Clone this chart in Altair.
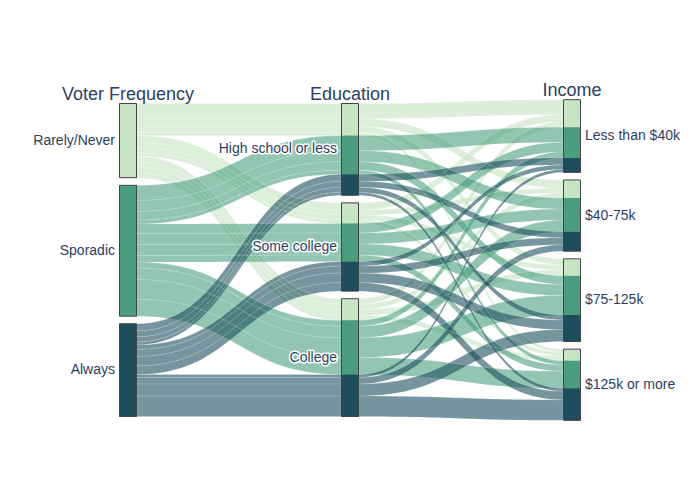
import altair as alt
import pandas as pd

# ---------------- data ----------------
dimensions = ["Voter Frequency", "Education", "Income"]
voter_freq = ["Rarely/Never", "Sporadic", "Always"]
education = ["High school or less", "Some college", "College"]
income = ["Less than $40k", "$40-75k", "$75-125k", "$125k or more"]
band_colors = ["#c6e5c2", "#4a9e7f", "#1d4e5e"]

# counts[education][income] for each voter frequency group
counts_rarely = [[296, 158, 118, 59], [138, 99, 99, 69], [108, 99, 118, 99]]
counts_sporadic = [[296, 217, 168, 79], [187, 217, 217, 128], [118, 227, 385, 335]]
counts_always = [[138, 118, 99, 59], [89, 138, 187, 168], [59, 128, 237, 404]]

# ---------------- layout (parallel categories) ----------------
W, H = 684, 484
content_px = 297.8
gap_px = 7.6
center_px = 252.0
dim_left_px = 111.5
dim_step_px = 222.0
bar_px = 17.0

cats = [voter_freq, education, income]
all_counts = [counts_rarely, counts_sporadic, counts_always]
paths = []
for vi in range(3):
    for ei in range(3):
        for ii in range(4):
            paths.append((vi, ei, ii, all_counts[vi][ei][ii]))
paths.sort(key=lambda p: (p[0], p[1], p[2]))
N = sum(p[3] for p in paths)
ppu = content_px / N
gap_u = gap_px / ppu
totals = [N + (len(c) - 1) * gap_u for c in cats]
Tmax = max(totals)

cat_top = []
for d, c in enumerate(cats):
    off = (Tmax - totals[d]) / 2
    tops = []
    cur = off
    for k in range(len(c)):
        tops.append(cur)
        size = sum(p[3] for p in paths if p[d] == k)
        cur += size + gap_u
    cat_top.append(tops)

fill = [[t for t in tops] for tops in cat_top]
path_y = []
for p in paths:
    ys = []
    for d in range(3):
        k = p[d]
        ys.append(fill[d][k])
        fill[d][k] += p[3]
    path_y.append(ys)

bw = bar_px / dim_step_px
x_lo = -dim_left_px / dim_step_px
x_hi = (W - dim_left_px) / dim_step_px
y_lo = Tmax / 2 - center_px / ppu
y_hi = Tmax / 2 + (H - center_px) / ppu

xs = alt.Scale(domain=[x_lo, x_hi], nice=False, zero=False)
ys_ = alt.Scale(domain=[y_lo, y_hi], nice=False, zero=False, reverse=True)
cs = alt.Scale(domain=voter_freq, range=band_colors)

steps = 48
rows = []
for pi, (p, yv) in enumerate(zip(paths, path_y)):
    pid = f"p{pi:02d}"
    pts = []
    for d in range(3):
        pts.append((d, yv[d]))
        pts.append((d + bw, yv[d]))
        if d < 2:
            x0, x1 = d + bw, d + 1
            for j in range(1, steps):
                s = j / steps
                bx = 1.5 * s - 1.5 * s * s + s ** 3
                by = 3 * s * s - 2 * s ** 3
                pts.append((x0 + (x1 - x0) * bx, yv[d] + (yv[d + 1] - yv[d]) * by))
    for (x, y) in pts:
        rows.append({"pid": pid, "vf": voter_freq[p[0]], "px": x, "top": y, "bot": y + p[3]})
ribbons = pd.DataFrame(rows)

ribbon_layer = alt.Chart(ribbons).mark_area(opacity=0.6).encode(
    x=alt.X("px:Q", scale=xs, axis=None),
    y=alt.Y("top:Q", scale=ys_, axis=None),
    y2="bot:Q",
    detail="pid:N",
    color=alt.Color("vf:N", scale=cs, legend=None),
)
edge_layer = alt.Chart(ribbons).mark_line(
    color="white", strokeWidth=0.6, opacity=0.35
).encode(
    x=alt.X("px:Q", scale=xs, axis=None),
    y=alt.Y("top:Q", scale=ys_, axis=None),
    detail="pid:N",
)

band_rows = []
outline_rows = []
label_rows = []
for d, c in enumerate(cats):
    for k, name in enumerate(c):
        top = cat_top[d][k]
        cur = top
        for vi in range(3):
            size = sum(p[3] for p in paths if p[d] == k and p[0] == vi)
            if size > 0:
                band_rows.append({"x": d, "x2": d + bw, "y": cur, "y2": cur + size,
                                  "vf": voter_freq[vi]})
            cur += size
        outline_rows.append({"x": d, "x2": d + bw, "y": top, "y2": cur})
        label_rows.append({"dim": d, "label": name, "y": (top + cur) / 2,
                           "xl": d - 4.5 / dim_step_px, "xr": d + bw + 4.5 / dim_step_px})
bands = pd.DataFrame(band_rows)
outlines = pd.DataFrame(outline_rows)
labels = pd.DataFrame(label_rows)

band_layer = alt.Chart(bands).mark_rect().encode(
    x=alt.X("x:Q", scale=xs, axis=None), x2="x2:Q",
    y=alt.Y("y:Q", scale=ys_, axis=None), y2="y2:Q",
    color=alt.Color("vf:N", scale=cs, legend=None),
)
outline_layer = alt.Chart(outlines).mark_rect(
    fillOpacity=0, stroke="#444444", strokeWidth=1
).encode(
    x=alt.X("x:Q", scale=xs, axis=None), x2="x2:Q",
    y=alt.Y("y:Q", scale=ys_, axis=None), y2="y2:Q",
)

font = "Liberation Sans"
txt_color = "#2a3f5f"

left_lab = alt.Chart(labels[labels.dim == 0]).mark_text(
    align="right", baseline="middle", fontSize=14, font=font, color=txt_color
).encode(x=alt.X("xl:Q", scale=xs, axis=None), y=alt.Y("y:Q", scale=ys_, axis=None), text="label:N")

mid_halo = alt.Chart(labels[labels.dim == 1]).mark_text(
    align="right", baseline="middle", fontSize=14, font=font, color="white",
    stroke="white", strokeWidth=3, strokeJoin="round"
).encode(x=alt.X("xl:Q", scale=xs, axis=None), y=alt.Y("y:Q", scale=ys_, axis=None), text="label:N")
mid_lab = alt.Chart(labels[labels.dim == 1]).mark_text(
    align="right", baseline="middle", fontSize=14, font=font, color=txt_color
).encode(x=alt.X("xl:Q", scale=xs, axis=None), y=alt.Y("y:Q", scale=ys_, axis=None), text="label:N")

right_lab = alt.Chart(labels[labels.dim == 2]).mark_text(
    align="left", baseline="middle", fontSize=14, font=font, color=txt_color
).encode(x=alt.X("xr:Q", scale=xs, axis=None), y=alt.Y("y:Q", scale=ys_, axis=None), text="label:N")

titles = pd.DataFrame({
    "label": dimensions,
    "x": [d + bw / 2 for d in range(3)],
    "y": [cat_top[d][0] for d in range(3)],
})
title_layer = alt.Chart(titles).mark_text(
    align="center", baseline="alphabetic", fontSize=18, font=font, color=txt_color, dy=-4
).encode(x=alt.X("x:Q", scale=xs, axis=None), y=alt.Y("y:Q", scale=ys_, axis=None), text="label:N")

chart = alt.layer(
    ribbon_layer, edge_layer, band_layer, outline_layer, left_lab, mid_halo, mid_lab,
    right_lab, title_layer
).properties(
    width=W, height=H, padding=0, autosize=alt.AutoSizeParams(type="none"),
    background="white",
).configure_view(stroke=None)

chart.save("out.html", embed_options={"renderer": "svg", "actions": False})
